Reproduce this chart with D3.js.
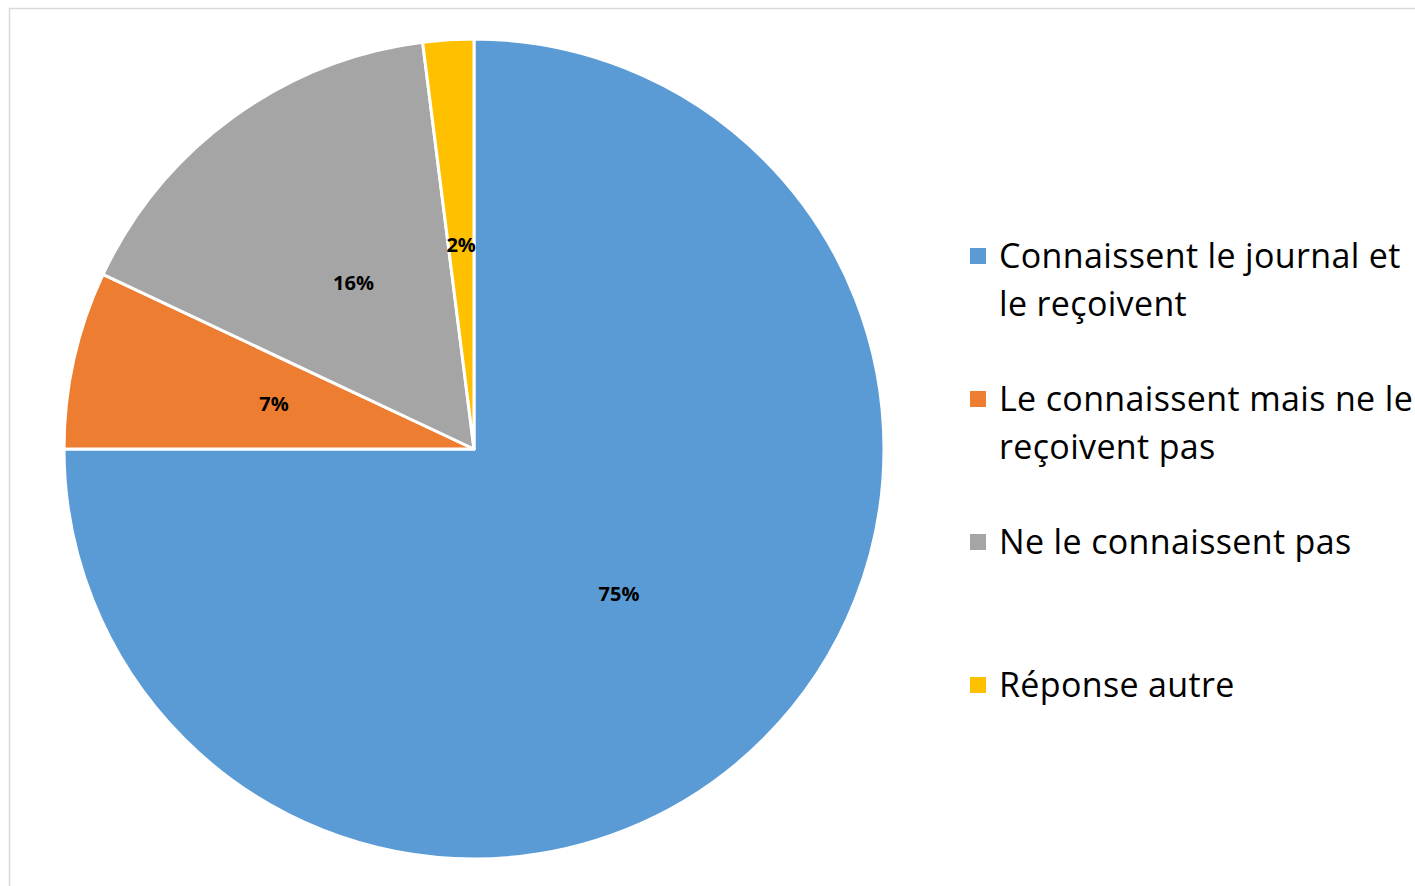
<!DOCTYPE html>
<html>
<head>
<meta charset="utf-8">
<script src="https://cdn.jsdelivr.net/npm/d3@7"></script>
<style>
  html, body { margin: 0; padding: 0; background: #fff; }
  svg { display: block; }
</style>
</head>
<body>
<div id="chart"></div>
<script>
// Chart data
const categories = [
  'Connaissent le journal et le reçoivent',
  'Le connaissent mais ne le reçoivent pas',
  'Ne le connaissent pas',
  'Réponse autre'
];
const values = [75, 7, 16, 2];
const labels = ['75%', '7%', '16%', '2%'];
const colors = ['#5B9BD5', '#ED7D31', '#A5A5A5', '#FFC000'];

const width = 1415;
const height = 886;
const fontFamily = '"Open Sans", "Noto Sans", sans-serif';

const svg = d3.select('#chart')
  .append('svg')
  .attr('width', width)
  .attr('height', height);

// Chart area border (runs off the right and bottom edges)
svg.append('rect')
  .attr('x', 9.5)
  .attr('y', 8.5)
  .attr('width', width + 20)
  .attr('height', height + 20)
  .attr('fill', '#fff')
  .attr('stroke', '#d9d9d9')
  .attr('stroke-width', 1.5);

const cx = 474;
const cy = 449;
const radius = 410;

const pieData = categories.map((c, i) => ({
  name: c, value: values[i], label: labels[i], color: colors[i]
}));

const pie = d3.pie()
  .value(d => d.value)
  .sort(null);

const arc = d3.arc()
  .innerRadius(0)
  .outerRadius(radius);

const g = svg.append('g')
  .attr('transform', `translate(${cx},${cy})`);

const arcs = pie(pieData);

g.selectAll('.slice')
  .data(arcs)
  .enter()
  .append('path')
  .attr('class', 'slice')
  .attr('d', arc)
  .attr('fill', d => d.data.color)
  .attr('stroke', '#fff')
  .attr('stroke-width', 3)
  .attr('stroke-linejoin', 'round');

// Percentage labels at half radius
g.selectAll('.pct')
  .data(arcs)
  .enter()
  .append('text')
  .attr('class', 'pct')
  .attr('transform', d => {
    const [x, y] = arc.centroid(d);
    return `translate(${x},${y})`;
  })
  .attr('text-anchor', 'middle')
  .attr('dy', '0.36em')
  .attr('font-family', fontFamily)
  .attr('font-weight', 700)
  .attr('font-size', '20px')
  .attr('fill', '#000')
  .text(d => d.data.label);

// Legend
const legendX = 970;
const legendTop = 256;
const itemGap = 143;
const lineHeight = 48;
const maxTextWidth = 425;
const textX = legendX + 29;

const legend = svg.append('g').attr('class', 'legend');

pieData.forEach((d, i) => {
  const y = legendTop + i * itemGap;
  const item = legend.append('g');

  item.append('rect')
    .attr('x', legendX)
    .attr('y', y - 8)
    .attr('width', 16)
    .attr('height', 16)
    .attr('fill', d.color);

  const text = item.append('text')
    .attr('font-family', fontFamily)
    .attr('font-size', '34px')
    .attr('letter-spacing', '0.35px')
    .attr('fill', '#000');

  // simple word wrap, baseline of first line sits 12px below the marker centre
  const words = d.name.split(' ');
  let line = [];
  let lineNo = 0;
  let tspan = text.append('tspan').attr('x', textX).attr('y', y + 12);
  words.forEach(w => {
    line.push(w);
    tspan.text(line.join(' '));
    if (tspan.node().getComputedTextLength() > maxTextWidth && line.length > 1) {
      line.pop();
      tspan.text(line.join(' '));
      line = [w];
      lineNo++;
      tspan = text.append('tspan')
        .attr('x', textX)
        .attr('y', y + 12 + lineNo * lineHeight)
        .text(w);
    }
  });
});
</script>
</body>
</html>
